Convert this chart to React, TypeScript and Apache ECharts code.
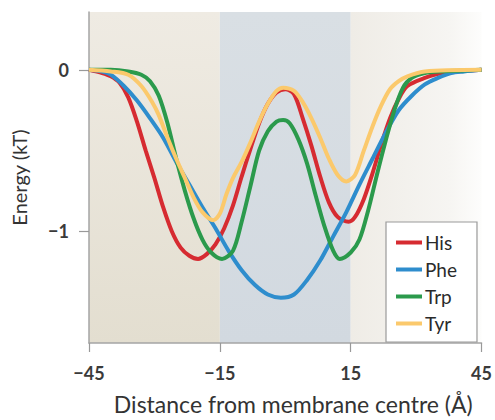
import React, { useEffect, useRef } from "react";
import * as echarts from "echarts";

const seriesNames = ["His", "Phe", "Trp", "Tyr"];
const seriesColors = ["#d62b31", "#2e8dcd", "#2b9a4c", "#fbc96c"];

const hisX = [-45, -42, -40, -38, -36, -34, -32, -30, -28, -26, -24, -22, -20, -18, -16, -14, -12, -10, -8, -6, -4, -2, 0, 2, 4, 6, 8, 10, 12, 14.5, 16, 18, 20, 22, 24, 26, 28, 32, 36, 45];
const hisE = [0, -0.02, -0.04, -0.08, -0.17, -0.32, -0.5, -0.67, -0.85, -1.0, -1.1, -1.15, -1.17, -1.14, -1.08, -0.98, -0.84, -0.66, -0.49, -0.33, -0.21, -0.14, -0.12, -0.15, -0.3, -0.47, -0.66, -0.82, -0.91, -0.94, -0.91, -0.8, -0.64, -0.46, -0.3, -0.18, -0.1, -0.05, -0.02, 0];

const pheX = [-45, -42, -40, -37, -34, -31, -28, -25, -22, -19, -16, -13, -10, -7, -4, -1, 2, 5, 8, 11, 14, 17, 20, 23, 26, 29, 32, 35, 38, 41, 45];
const pheE = [0, -0.01, -0.03, -0.1, -0.19, -0.3, -0.42, -0.57, -0.71, -0.85, -0.98, -1.12, -1.24, -1.33, -1.39, -1.41, -1.39, -1.3, -1.18, -1.03, -0.88, -0.71, -0.55, -0.39, -0.25, -0.16, -0.09, -0.05, -0.02, -0.01, 0];

const trpX = [-45, -40, -36, -33, -31, -29, -27, -25, -23, -21, -19, -17, -14.5, -12, -10, -8, -6, -4, -2, -0.5, 1, 3, 5, 7, 9, 11, 12.5, 15, 17, 19, 21, 23, 25, 27, 29, 32, 36, 45];
const trpE = [0, 0, -0.01, -0.03, -0.07, -0.16, -0.33, -0.55, -0.75, -0.92, -1.05, -1.13, -1.17, -1.12, -0.94, -0.72, -0.5, -0.38, -0.32, -0.31, -0.33, -0.43, -0.58, -0.78, -0.97, -1.12, -1.17, -1.13, -1.05, -0.87, -0.65, -0.44, -0.25, -0.11, -0.05, -0.02, -0.01, 0];

const tyrX = [-45, -40, -36, -33, -30.5, -29, -27, -25, -23, -21, -19, -16.5, -15, -13.5, -12, -10, -8, -6, -4, -2, -0.5, 2, 4, 6, 8, 10, 12, 14, 16, 18, 20, 22, 24, 26, 28, 32, 45];
const tyrE = [0, -0.01, -0.03, -0.1, -0.2, -0.28, -0.42, -0.55, -0.67, -0.79, -0.88, -0.93, -0.89, -0.77, -0.67, -0.57, -0.45, -0.32, -0.21, -0.13, -0.11, -0.13, -0.2, -0.3, -0.42, -0.55, -0.65, -0.69, -0.65, -0.5, -0.35, -0.22, -0.12, -0.07, -0.04, -0.01, 0];

const xTicks = [-45, -15, 15, 45];
const yTicks = [-1, 0];
const bandEdges = [-45, -15, 15, 45];

const xData = [hisX, pheX, trpX, tyrX];
const yData = [hisE, pheE, trpE, tyrE];

const fmt = (v: number) => String(v).replace("-", "\u2212");

export default function App() {
  const ref = useRef<HTMLDivElement>(null);
  useEffect(() => {
    document.body.style.margin = "0";
    const chart = echarts.init(ref.current!, null, { renderer: "svg" });
    const font = "Lato, 'Open Sans', sans-serif";
    const bandColors = [
      { type: "linear", x: 0, y: 0, x2: 0, y2: 1, colorStops: [{ offset: 0, color: "#efebe3" }, { offset: 1, color: "#e3ded0" }] },
      { type: "linear", x: 0, y: 0, x2: 0, y2: 1, colorStops: [{ offset: 0, color: "#d9dfe4" }, { offset: 1, color: "#d2d9e0" }] },
      { type: "linear", x: 0, y: 0, x2: 1, y2: 0, colorStops: [{ offset: 0, color: "#efece6" }, { offset: 0.75, color: "#f6f5f2" }, { offset: 1, color: "#fdfdfc" }] },
    ];
    const series: any[] = seriesNames.map((name, i) => ({
      name,
      type: "line",
      data: xData[i].map((x, j) => [x, yData[i][j]]),
      smooth: 0.3,
      showSymbol: false,
      lineStyle: { color: seriesColors[i], width: 4 },
      itemStyle: { color: seriesColors[i] },
      z: 3 + i,
    }));
    series[0].markArea = {
      silent: true,
      z: 0,
      data: [0, 1, 2].map((k) => [
        { xAxis: bandEdges[k], itemStyle: { color: bandColors[k] } },
        { xAxis: bandEdges[k + 1] },
      ]),
    };
    chart.setOption({
      animation: false,
      grid: { left: 89, right: 12, top: 12, bottom: 76 },
      xAxis: {
        type: "value",
        min: -45,
        max: 45,
        splitLine: { show: false },
        axisLine: { show: true, onZero: false, lineStyle: { color: "#a5a5a5", width: 1.5 } },
        axisTick: { show: true, customValues: xTicks, length: 9, lineStyle: { color: "#999", width: 1.2 } },
        axisLabel: { customValues: xTicks, formatter: fmt, margin: 21, fontSize: 18, fontWeight: "bold", color: "#3a3a3a", fontFamily: font },
        name: "Distance from membrane centre (\u00c5)",
        nameLocation: "middle",
        nameGap: 49,
        nameTextStyle: { fontSize: 23, color: "#333", fontFamily: font, padding: [0, 0, 0, 16] },
      },
      yAxis: {
        type: "value",
        min: -1.69,
        max: 0.358,
        splitLine: { show: false },
        axisLine: { show: true, onZero: false, lineStyle: { color: "#a5a5a5", width: 1.5 } },
        axisTick: { show: true, customValues: yTicks, length: 10, lineStyle: { color: "#999", width: 1.2 } },
        axisLabel: { customValues: yTicks, formatter: fmt, margin: 20, fontSize: 18, fontWeight: "bold", color: "#3a3a3a", fontFamily: font },
        name: "Energy (kT)",
        nameLocation: "middle",
        nameGap: 60,
        nameTextStyle: { fontSize: 20, color: "#333", fontFamily: font },
      },
      legend: {
        data: seriesNames,
        orient: "vertical",
        left: 386,
        top: 222,
        padding: [11, 20, 9, 10],
        itemGap: 8,
        itemWidth: 26,
        itemHeight: 4,
        icon: "rect",
        backgroundColor: "#ffffff",
        borderColor: "#9a9a9a",
        borderWidth: 1.2,
        textStyle: { fontSize: 19, color: "#2a2a2a", fontFamily: font, padding: [0, 0, 0, -2] },
      },
      series,
    });
    return () => chart.dispose();
  }, []);
  return <div ref={ref} style={{ width: 495, height: 420 }} />;
}
